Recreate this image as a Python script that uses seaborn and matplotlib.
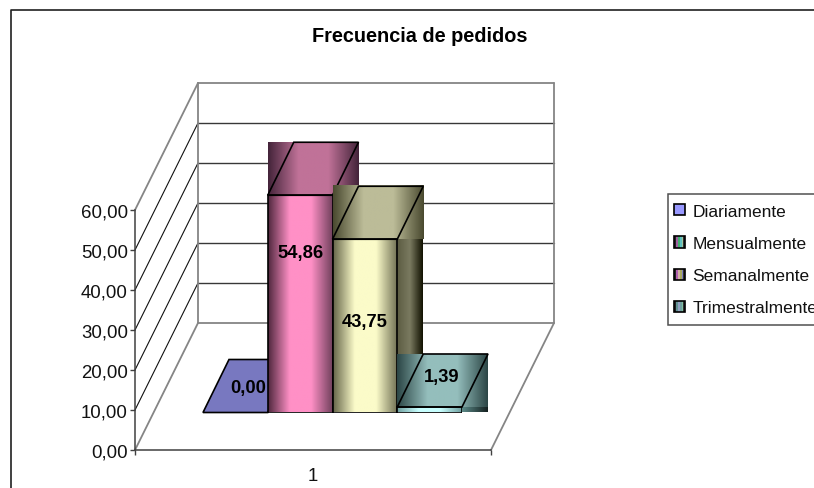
import numpy as np
import pandas as pd
import matplotlib
matplotlib.use("Agg")
import matplotlib.pyplot as plt
import seaborn as sns
from matplotlib.colors import LinearSegmentedColormap
from matplotlib.legend_handler import HandlerBase
from matplotlib.lines import Line2D
from matplotlib.patches import Patch, Polygon, Rectangle

series = ["Diariamente", "Mensualmente", "Semanalmente", "Trimestralmente"]
values = [0.00, 54.86, 43.75, 1.39]
value_labels = ["0,00", "54,86", "43,75", "1,39"]
y_ticks = [0, 10, 20, 30, 40, 50, 60]
category_label = "1"
title = "Frecuencia de pedidos"

W, H = 814, 489
sns.set_theme(style="white")
plt.rcParams["font.family"] = ["Liberation Sans", "DejaVu Sans"]

fig = plt.figure(figsize=(W / 100, H / 100), dpi=100, facecolor="white")


def px_rect(left, bottom, width, height):
    return [left / W, (H - bottom) / H, width / W, height / H]


# Plot frame: only the left and top edges fall inside the canvas
fig.add_artist(Line2D([11 / W, 11 / W, 1], [0, (H - 11) / H, (H - 11) / H],
                      color="#202020", lw=1.2))

# Frame of the 3D box: value axis in front, walls and floor pushed back in depth
ax = fig.add_axes(px_rect(135, 451, 356, 240))
ax.patch.set_alpha(0)
ax.set_xlim(0, 1)
ax.set_ylim(0, 60)
box_dx, box_dy = 63 / 356, 127 / 4
GRID, WALL = "#383838", "#858585"
for v in y_ticks:
    edge = v in (y_ticks[0], y_ticks[-1])
    ax.plot([0, box_dx], [v, v + box_dy], color=WALL if edge else "#101010",
            lw=1.3 if edge else 0.8, clip_on=False, zorder=1)
    ax.plot([box_dx, 1 + box_dx], [v + box_dy] * 2, color=WALL if edge else GRID,
            lw=1.3 if edge else 1.0, clip_on=False, zorder=1)
for xs, ys in (([box_dx, box_dx], [box_dy, 60 + box_dy]),
               ([1 + box_dx, 1 + box_dx], [box_dy, 60 + box_dy]),
               ([1, 1 + box_dx], [0, box_dy])):
    ax.plot(xs, ys, color=WALL, lw=1.3, clip_on=False, zorder=1)

for side in ("top", "right"):
    ax.spines[side].set_visible(False)
for side in ("left", "bottom"):
    ax.spines[side].set_color("#404040")
    ax.spines[side].set_linewidth(1.1)
ax.set_yticks(y_ticks)
ax.set_yticklabels([f"{v:.2f}".replace(".", ",") for v in y_ticks], fontsize=13.4, color="#111111")
ax.set_xticks([0, 1])
ax.set_xticklabels(["", ""])
ax.set_xticks([0.5], minor=True)
ax.set_xticklabels([category_label], minor=True, fontsize=13.4, color="#111111")
ax.tick_params(axis="both", which="major", length=3.6, width=1, color="#404040",
               left=True, bottom=True, pad=1.6)
ax.tick_params(axis="x", which="minor", length=0, pad=12, bottom=False)

# Bars sit on the floor, part of the way into the box
BAR_SCALE = 3.96
bar_ax = fig.add_axes(px_rect(203, 413.5, 259, 60 * BAR_SCALE), zorder=3)
bar_ax.patch.set_alpha(0)
frame = pd.DataFrame({"serie": series, "valor": values})
sns.barplot(data=frame, x="serie", y="valor", order=series, width=1.0,
            color="white", ax=bar_ax, errorbar=None, saturation=1)
bar_ax.set_xlim(-0.5, 3.5)
bar_ax.set_ylim(0, 60)
bar_ax.axis("off")

depth_dx, depth_dy = 26 / 64.75, 53 / BAR_SCALE


def ramp(stops):
    return LinearSegmentedColormap.from_list("ramp", stops)


def shade(x0, x1, y0, y1, stops, z):
    bar_ax.imshow(np.linspace(0, 1, 128)[None, :], cmap=ramp(stops), vmin=0, vmax=1,
                  extent=(x0, x1, y0, y1), aspect="auto", origin="lower",
                  interpolation="bilinear", zorder=z, clip_on=False)


front_stops = {
    1: ["#50283e", "#ff90c6", "#ff90c6", "#70405c"],
    2: ["#66664a", "#fbfbc9", "#fbfbc9", "#6e6e52"],
    3: ["#70a0a0", "#c8ffff", "#c8ffff", "#70a0a0"],
}
top_stops = {
    1: ["#44243a", "#c07298", "#c07298", "#44243a"],
    2: ["#4a4a30", "#bcbc98", "#bcbc98", "#4a4a30"],
    3: ["#2c4646", "#94bebc", "#94bebc", "#2c4646"],
}
side_stops = {
    1: ["#70405c", "#44243a"],
    2: ["#5c5c42", "#7a7a60", "#111100"],
    3: ["#5c8a88", "#142020"],
}

INK = "#000000"
for i, (bar, v) in enumerate(zip(bar_ax.patches, values)):
    x0, w = bar.get_x(), bar.get_width()
    x1 = x0 + w
    z = 2 + 2 * i
    if v > 0:
        # Shaded bands of the side, top and front, painted over their bounding boxes
        shade(x1, x1 + depth_dx, depth_dy if v > depth_dy else 0, v, side_stops[i], z)
        shade(x0, x1 + depth_dx, v, v + depth_dy, top_stops[i], z + 0.2)
        shade(x0, x1, 0, v, front_stops[i], z + 0.4)
    top_color = "#7878c0" if v == 0 else "none"
    bar_ax.add_patch(Polygon([(x0, v), (x1, v), (x1 + depth_dx, v + depth_dy), (x0 + depth_dx, v + depth_dy)],
                             closed=True, facecolor=top_color, edgecolor=INK, lw=1.2,
                             zorder=z + 0.5, clip_on=False))
    bar.set_facecolor("none")
    bar.set_edgecolor(INK)
    bar.set_linewidth(1.2)
    bar.set_zorder(z + 0.6)
bar_ax.set_xlim(-0.5, 3.5)
bar_ax.set_ylim(0, 60)

# Value labels, offset by hand the way the spreadsheet places them
label_dx = [0.2, 0.0, 0.0, 0.18]
label_y = [6.4, 40.3, 23.1, 9.0]
for i, text in enumerate(value_labels):
    bar_ax.text(i + label_dx[i], label_y[i], text, ha="center", va="center",
                fontsize=13.2, fontweight="bold", color="black", zorder=20, clip_on=False)

fig.text(419.5 / W, (H - 37) / H, title, ha="center", va="center",
         fontsize=14.3, fontweight="bold", color="black")


class StripeHandler(HandlerBase):
    """Legend swatch made of thin vertical colour bands."""

    def __init__(self, bands):
        super().__init__()
        self.bands = bands

    def create_artists(self, legend, orig, xd, yd, width, height, fontsize, trans):
        side = 8.0
        left = xd - 2.6
        y = yd + (height - side) / 2
        out = []
        step = side / len(self.bands)
        for k, c in enumerate(self.bands):
            out.append(Rectangle((left + k * step, y), step, side, facecolor=c, edgecolor="none", transform=trans))
        out.append(Rectangle((left, y), side, side, facecolor="none", edgecolor="black", lw=1.2, transform=trans))
        return out


swatches = [
    ["#9999ff"],
    ["#202020", "#a060a0", "#40b070", "#60c0c0", "#a0c8a0", "#303030"],
    ["#202020", "#b060b0", "#d0b0a0", "#a8a860", "#8080c0", "#303030"],
    ["#202020", "#609090", "#90a0c0", "#70a0a0", "#80c0a0", "#303030"],
]
handles = [Patch(label=s) for s in series]
legend = fig.legend(handles=handles, loc="upper left",
                    bbox_to_anchor=(668 / W, (H - 195) / H), bbox_transform=fig.transFigure,
                    fontsize=12.5, frameon=True, fancybox=False, framealpha=1,
                    edgecolor="#505050", facecolor="white", borderaxespad=0,
                    labelspacing=0.98, handlelength=0.42, handletextpad=0.42,
                    borderpad=0.56,
                    handler_map={h: StripeHandler(b) for h, b in zip(handles, swatches)})
legend.get_frame().set_linewidth(1.1)
for t in legend.get_texts():
    t.set_color("#111111")

fig.savefig("out.png", dpi=100)
